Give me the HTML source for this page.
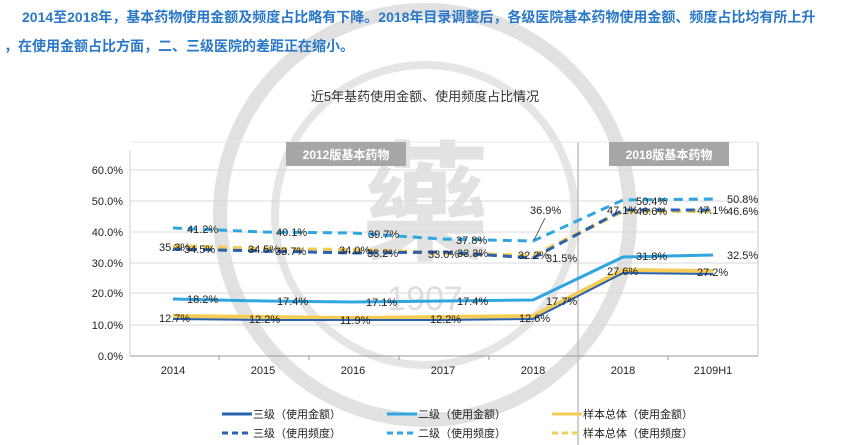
<!DOCTYPE html>
<html><head><meta charset="utf-8"><style>
body{margin:0;background:#fff;}
svg{display:block;font-family:"Liberation Sans","Noto Sans CJK SC",sans-serif;}
</style></head><body>
<svg width="843" height="445" viewBox="0 0 843 445" xmlns="http://www.w3.org/2000/svg">
<rect width="843" height="445" fill="#fff"/>
<!-- watermark -->
<g fill="none" stroke="#d4d4d4">
<circle cx="425" cy="215" r="205" stroke-width="14" opacity="0.7"/>
<circle cx="425" cy="215" r="150" stroke-width="8" opacity="0.6"/>
</g>
<text x="425" y="250" font-size="130" fill="#d0d0d0" opacity="0.6" text-anchor="middle" font-weight="bold">藥</text>
<text x="425" y="310" font-size="34" fill="#d0d0d0" opacity="0.7" text-anchor="middle">1907</text>
<!-- header text -->
<text x="22" y="22" font-size="14" font-weight="bold" fill="#2a78c8">2014至2018年，基本药物使用金额及频度占比略有下降。2018年目录调整后，各级医院基本药物使用金额、频度占比均有所上升</text>
<text x="4" y="51" font-size="14" font-weight="bold" fill="#2a78c8">，在使用金额占比方面，二、三级医院的差距正在缩小。</text>
<text x="425" y="101" font-size="13" fill="#333" text-anchor="middle">近5年基药使用金额、使用频度占比情况</text>
<!-- grid -->
<g stroke="#d9d9d9" stroke-width="1">
<line x1="130" y1="170" x2="758" y2="170"/><line x1="130" y1="201" x2="758" y2="201"/>
<line x1="130" y1="232" x2="758" y2="232"/><line x1="130" y1="263" x2="758" y2="263"/>
<line x1="130" y1="293" x2="758" y2="293"/><line x1="130" y1="325" x2="758" y2="325"/>
<line x1="758" y1="142" x2="758" y2="356" stroke="#c8c8c8"/>
<line x1="578" y1="142" x2="578" y2="445" stroke="#c0c0c0" stroke-width="1.5"/>
<line x1="130" y1="142" x2="758" y2="142" stroke="#e6e6e6"/>
</g>
<line x1="130" y1="356" x2="758" y2="356" stroke="#999"/>
<line x1="130" y1="150" x2="130" y2="356" stroke="#ccc"/>
<g stroke="#999"><line x1="219" y1="356" x2="219" y2="360"/><line x1="309" y1="356" x2="309" y2="360"/><line x1="399" y1="356" x2="399" y2="360"/><line x1="489" y1="356" x2="489" y2="360"/><line x1="668" y1="356" x2="668" y2="360"/></g>
<g font-size="11" fill="#222" text-anchor="end">
<text x="123" y="174">60.0%</text><text x="123" y="205">50.0%</text><text x="123" y="236">40.0%</text>
<text x="123" y="267">30.0%</text><text x="123" y="297">20.0%</text><text x="123" y="329">10.0%</text><text x="123" y="360">0.0%</text>
</g>
<g font-size="11" fill="#222" text-anchor="middle">
<text x="173" y="374">2014</text><text x="263" y="374">2015</text><text x="353" y="374">2016</text>
<text x="443" y="374">2017</text><text x="533" y="374">2018</text><text x="623" y="374">2018</text><text x="713" y="374">2109H1</text>
</g>
<!-- banners -->
<rect x="286" y="142" width="120" height="24" fill="#a6a6a6"/>
<text x="346" y="159" font-size="12" font-weight="bold" fill="#fff" text-anchor="middle">2012版基本药物</text>
<rect x="609" y="142" width="120" height="24" fill="#a6a6a6"/>
<text x="669" y="159" font-size="12" font-weight="bold" fill="#fff" text-anchor="middle">2018版基本药物</text>
<!-- series -->
<g fill="none" stroke-width="3" stroke-linejoin="round">
<polyline stroke="#f5cc55" points="173,316 263,317 353,318 443,317 533,316 623,270 713,271" stroke-width="4"/>
<polyline stroke="#2862b0" points="173,319 263,320 353,320 443,320 533,319 623,273 713,274" stroke-width="2"/>
<polyline stroke="#2fa6df" points="173,299 263,301 353,302 443,301 533,300 623,257 713,255"/>
<polyline stroke="#2fa6df" stroke-dasharray="9,6" points="173,228 263,232 353,233 443,239 533,241 623,200 713,199"/>
<polyline stroke="#f5cc55" stroke-dasharray="9,6" points="173,246 263,249 353,250 443,253 533,256 623,211 713,211" stroke-width="4"/>
<polyline stroke="#2862b0" stroke-dasharray="9,6" points="173,249 263,251 353,253 443,252 533,258 623,210 713,210"/>
</g>
<line x1="545" y1="218" x2="534" y2="240" stroke="#333" stroke-width="0.8"/>
<!-- labels -->
<g font-size="11" fill="#222">
<text x="187" y="233">41.2%</text><text x="276" y="236">40.1%</text><text x="368" y="238">39.7%</text><text x="456" y="244">37.8%</text><text x="530" y="214">36.9%</text>
<text x="636" y="205">50.4%</text><text x="727" y="203">50.8%</text>
<text x="159" y="251">35.3%</text><text x="184" y="253">34.5%</text><text x="248" y="253">34.5%</text><text x="275" y="255">33.7%</text><text x="339" y="254">34.0%</text><text x="367" y="257">33.2%</text>
<text x="428" y="258">33.0%</text><text x="457" y="257">33.3%</text><text x="518" y="259">32.2%</text><text x="546" y="262">31.5%</text>
<text x="607" y="214">47.1%</text><text x="636" y="215">46.6%</text><text x="697" y="214">47.1%</text><text x="727" y="215">46.6%</text>
<text x="187" y="303">18.2%</text><text x="277" y="305">17.4%</text><text x="366" y="306">17.1%</text><text x="457" y="305">17.4%</text><text x="546" y="305">17.7%</text>
<text x="636" y="260">31.8%</text><text x="727" y="259">32.5%</text>
<text x="159" y="322">12.7%</text><text x="249" y="323">12.2%</text><text x="340" y="324">11.9%</text><text x="430" y="323">12.2%</text><text x="519" y="322">12.6%</text>
<text x="607" y="275">27.6%</text><text x="697" y="276">27.2%</text>
</g>
<!-- legend -->
<g stroke-width="3">
<line x1="222" y1="414" x2="252" y2="414" stroke="#2862b0"/>
<line x1="387" y1="414" x2="417" y2="414" stroke="#2fa6df"/>
<line x1="552" y1="414" x2="582" y2="414" stroke="#f5cc55"/>
<line x1="222" y1="433" x2="252" y2="433" stroke="#2862b0" stroke-dasharray="6,4"/>
<line x1="387" y1="433" x2="417" y2="433" stroke="#2fa6df" stroke-dasharray="6,4"/>
<line x1="552" y1="433" x2="582" y2="433" stroke="#f5cc55" stroke-dasharray="6,4"/>
</g>
<g font-size="11" fill="#222">
<text x="253" y="418">三级（使用金额）</text><text x="418" y="418">二级（使用金额）</text><text x="583" y="418">样本总体（使用金额）</text>
<text x="253" y="437">三级（使用频度）</text><text x="418" y="437">二级（使用频度）</text><text x="583" y="437">样本总体（使用频度）</text>
</g>
</svg>
</body></html>
